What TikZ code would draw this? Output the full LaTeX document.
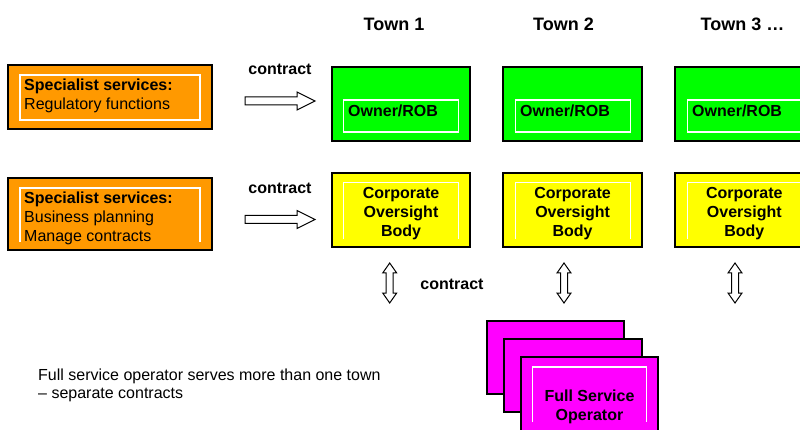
\documentclass[tikz,border=0pt]{standalone}
\usepackage{fontspec}
\setmainfont{Liberation Sans}
\definecolor{svcorange}{HTML}{FF9900}
\definecolor{ownergreen}{HTML}{00FF00}
\definecolor{cobyellow}{HTML}{FFFF00}
\definecolor{fsomagenta}{HTML}{FF00FF}
\tikzset{
  panel/.style={draw=black, line width=1.1pt, anchor=north west, inner sep=0pt, outer sep=0pt},
  frame/.style={draw=white, line width=1.3pt},
  blockarrow/.style={draw=black, fill=white, line width=1pt, line join=miter},
  txt/.style={inner sep=0pt, font=\fontsize{16}{19}\selectfont},
  btxt/.style={inner sep=0pt, font=\fontsize{16}{19}\selectfont\bfseries},
  head/.style={inner sep=0pt, font=\fontsize{18}{20}\selectfont\bfseries},
  harrow/.pic={\draw[blockarrow] (0,-4) -- (52,-4) -- (52,-9) -- (70,0) -- (52,9) -- (52,4) -- (0,4) -- cycle;},
  varrow/.pic={\draw[blockarrow] (0,-20) -- (7,-10) -- (3.5,-10) -- (3.5,10) -- (7,10) -- (0,20)
                 -- (-7,10) -- (-3.5,10) -- (-3.5,-10) -- (-7,-10) -- cycle;}
}
\begin{document}
\begin{tikzpicture}[x=1pt, y=-1pt]
\clip (0,0) rectangle (800,430);
\fill[white] (0,0) rectangle (800,430);

% town headings
\node[head, anchor=north] (t1) at (394,17.5) {Town 1};
\node[head, anchor=north] (t2) at (563.5,17.5) {Town 2};
\node[head, anchor=north] (t3) at (742.5,17.5) {Town 3 …};

% specialist services
\node[panel, fill=svcorange, minimum width=204pt, minimum height=64pt] (s1) at (8,65) {};
\draw[frame] (20,75) rectangle (200,120);
\node[txt, anchor=north west, align=left] (s1t) at (24,78.3)
  {\textbf{Specialist services:}\\Regulatory functions};

\node[panel, fill=svcorange, minimum width=204pt, minimum height=72pt] (s2) at (8,178) {};
\draw[frame] (20,242) -- (20,188) -- (200,188) -- (200,242);
\node[txt, anchor=north west, align=left] (s2t) at (24,191.5)
  {\textbf{Specialist services:}\\Business planning\\Manage contracts};

% contract arrows from the specialists
\node[btxt, anchor=base] (c1) at (280,75) {contract};
\node[btxt, anchor=base] (c2) at (280,193.3) {contract};
\coordinate (a1) at (245,101);
\coordinate (a2) at (245,219.5);
\pic at (a1) {harrow};
\pic at (a2) {harrow};

% owner / ROB row
\node[panel, fill=ownergreen, minimum width=138pt, minimum height=74pt] (o1) at (332,67) {};
\node[panel, fill=ownergreen, minimum width=139pt, minimum height=74pt] (o2) at (503,67) {};
\node[panel, fill=ownergreen, minimum width=139pt, minimum height=74pt] (o3) at (675,67) {};
\draw[frame] (343.3,100) rectangle (458.3,132);
\draw[frame] (515.7,100) rectangle (630.7,132);
\draw[frame] (687.3,100) rectangle (802.3,132);
\node[btxt, anchor=north west] (o1t) at (348,105) {Owner/ROB};
\node[btxt, anchor=north west] (o2t) at (520,105) {Owner/ROB};
\node[btxt, anchor=north west] (o3t) at (692,105) {Owner/ROB};

% corporate oversight row
\node[panel, fill=cobyellow, minimum width=138pt, minimum height=74pt] (b1) at (332,173) {};
\node[panel, fill=cobyellow, minimum width=139pt, minimum height=74pt] (b2) at (503,173) {};
\node[panel, fill=cobyellow, minimum width=139pt, minimum height=74pt] (b3) at (675,173) {};
\draw[frame] (343.3,239.3) -- (343.3,182.7) -- (458.3,182.7) -- (458.3,239.3);
\draw[frame] (515.7,239.3) -- (515.7,182.7) -- (630.7,182.7) -- (630.7,239.3);
\draw[frame] (687.3,239.3) -- (687.3,182.7) -- (802.3,182.7) -- (802.3,239.3);
\node[btxt, anchor=north, align=center] (b1t) at (401,186.7) {Corporate\\Oversight\\Body};
\node[btxt, anchor=north, align=center] (b2t) at (572.6,186.7) {Corporate\\Oversight\\Body};
\node[btxt, anchor=north, align=center] (b3t) at (744.3,186.7) {Corporate\\Oversight\\Body};

% contracts between oversight bodies and the operator
\coordinate (v1) at (389.7,283);
\coordinate (v2) at (564,283);
\coordinate (v3) at (735,283);
\pic at (v1) {varrow};
\pic at (v2) {varrow};
\pic at (v3) {varrow};
\node[btxt, anchor=base] (c3) at (452,289.3) {contract};

% full service operator, stacked
\node[panel, fill=fsomagenta, minimum width=137pt, minimum height=73pt] (f1) at (487,321) {};
\node[panel, fill=fsomagenta, minimum width=138pt, minimum height=73pt] (f2) at (504,339) {};
\node[panel, fill=fsomagenta, minimum width=137pt, minimum height=85pt] (f3) at (521,357) {};
\draw[frame] (532.3,422) -- (532.3,367) -- (646.7,367) -- (646.7,422);
\node[btxt, anchor=north, align=center, font=\fontsize{16}{18.5}\selectfont\bfseries] (f3t) at (589.5,390)
  {Full Service\\Operator};

% note
\node[txt, anchor=north west, align=left, font=\fontsize{16}{18}\selectfont] (note) at (38,369)
  {Full service operator serves more than one town\\– separate contracts};
\end{tikzpicture}
\end{document}
